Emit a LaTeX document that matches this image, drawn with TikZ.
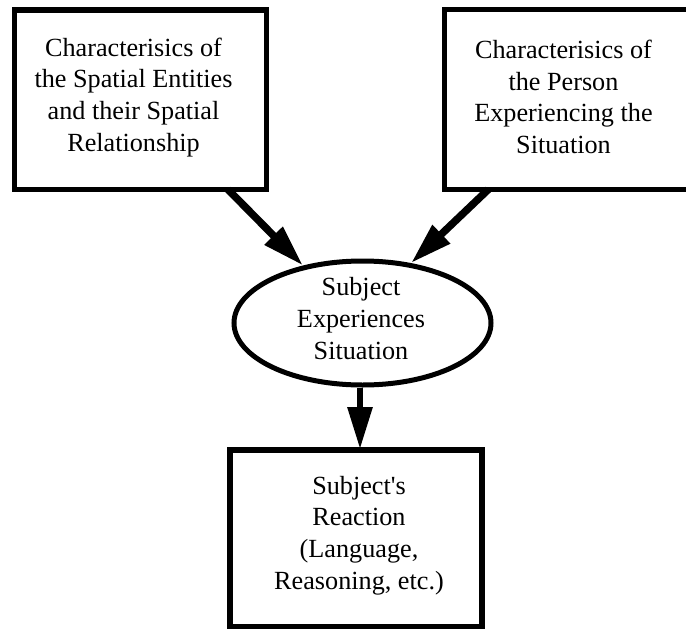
\documentclass[tikz,border=0pt]{standalone}
\usepackage{fontspec}
\setmainfont{Liberation Serif}[Ligatures=TeXOff]
\usetikzlibrary{shapes.geometric,arrows.meta}
\begin{document}
\begin{tikzpicture}[x=1pt,y=-1pt,
  box/.style={draw, line width=5.5pt, outer sep=0pt, inner sep=0pt},
  oval/.style={ellipse, draw, line width=5pt, inner sep=0pt},
  txt/.style={align=center, inner sep=0pt, font=\fontsize{26.2}{31.6}\selectfont},
  arr/.style={line width=#1, -{Triangle[length=42pt,width=24pt]}}]
\useasboundingbox (0,0) rectangle (686,632);
\clip (0,0) rectangle (686,632);
% shapes
\node[box, minimum width=252pt, minimum height=179.5pt] (b1) at (140.5,99.75) {};
\node[box, minimum width=248.5pt, minimum height=180pt] (b2) at (568.75,99.5) {};
\node[oval, minimum width=257pt, minimum height=124pt] (e) at (362.5,323) {};
\node[box, minimum width=252pt, minimum height=176.5pt] (b3) at (356,538.25) {};
% texts
\node[txt] (t1) at (133.5,97.3) {Characterisics of\\the Spatial Entities\\and their Spatial\\Relationship};
\node[txt] (t2) at (563.5,96.8) {Characterisics of\\the Person\\Experiencing the\\Situation};
\node[txt] (te) at (361,318.5) {Subject\\Experiences\\Situation};
\node[txt] (t3) at (359,535.4) {Subject's\\Reaction\\(Language,\\Reasoning, etc.)};
% connectors
\draw[arr=7.5pt] ([xshift=87.5pt]b1.south) -- (e.136);
\draw[arr=7.5pt] ([xshift=-80.5pt]b2.south) -- (e.51);
\draw[arr=6pt] ([xshift=-2.5pt]e.south) -- ([xshift=-2.5pt,yshift=1pt]e.south |- b3.north);
\end{tikzpicture}
\end{document}
